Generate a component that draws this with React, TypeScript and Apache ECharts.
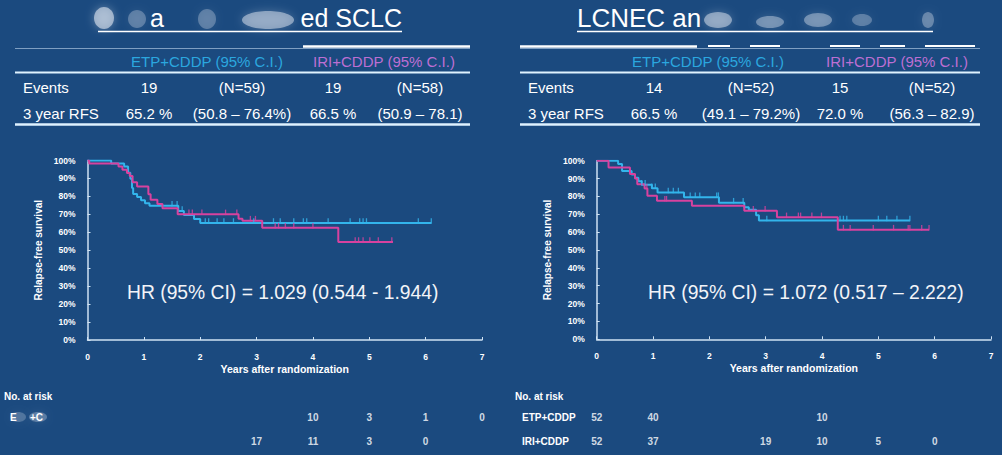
import React, { useEffect, useRef } from 'react';
import * as echarts from 'echarts';

const FONT = '"Liberation Sans", Arial, Helvetica, sans-serif';
const BG = '#1b4a7f';
const BLUE = '#33b5ec';
const MAGENTA = '#d8429f';
const HEAD_BLUE = '#2ba7df';
const HEAD_PURPLE = '#bd6fd3';
const AXIS = '#cfe2f3';

// ---------- Table data ----------
const tableHeaders = ['ETP+CDDP (95% C.I.)', 'IRI+CDDP (95% C.I.)'];
const rowLabels = ['Events', '3 year RFS'];
const sclcEvents = ['19', '(N=59)', '19', '(N=58)'];
const sclcRfs = ['65.2 %', '(50.8 – 76.4%)', '66.5 %', '(50.9 – 78.1)'];
const lcnecEvents = ['14', '(N=52)', '15', '(N=52)'];
const lcnecRfs = ['66.5 %', '(49.1 – 79.2%)', '72.0 %', '(56.3 – 82.9)'];
const sclcHR = 'HR (95% CI) = 1.029 (0.544 - 1.944)';
const lcnecHR = 'HR (95% CI) = 1.072 (0.517 – 2.222)';

// ---------- Kaplan-Meier data (time in years, survival %) ----------
const sclcEtpSteps: [number, number][] = [
  [0, 100], [0.42, 98.3], [0.65, 96.6], [0.72, 93.2], [0.76, 89.8], [0.79, 84.7], [0.81, 81.3],
  [0.88, 79.6], [0.95, 77.9], [1.02, 76.2], [1.1, 74.8], [1.61, 71.8], [1.71, 69.6], [1.89, 67.4], [2.0, 65.2],
];
const sclcEtpEnd = 6.1;
const sclcEtpCensor = [1.5, 1.59, 1.68, 2.09, 2.15, 2.3, 2.42, 2.59, 2.95, 3.3, 3.42, 3.66, 3.83, 3.89, 4.27, 4.66, 4.83, 4.89, 4.95, 5.87, 6.1];

const sclcIriSteps: [number, number][] = [
  [0, 100], [0.03, 98.3], [0.55, 96.6], [0.62, 94.8], [0.7, 93.1], [0.75, 91.4], [0.8, 87.9], [0.88, 85.5],
  [1.08, 81.2], [1.12, 78.2], [1.24, 75.7], [1.33, 73.4], [1.6, 70.0], [2.68, 67.6], [2.75, 66.5], [3.1, 62.6], [4.45, 54.6],
];
const sclcIriEnd = 5.42;
const sclcIriCensor = [1.8, 1.86, 2.03, 2.45, 2.65, 2.89, 2.98, 3.33, 3.39, 3.51, 3.66, 4.0, 4.75, 4.81, 4.89, 5.01, 5.16, 5.4];

const lcnecEtpSteps: [number, number][] = [
  [0, 100], [0.38, 98.1], [0.45, 94.2], [0.62, 92.3], [0.68, 90.4], [0.74, 88.5], [0.8, 86.5], [0.98, 84.6],
  [1.08, 82.2], [1.55, 79.6], [2.17, 76.5], [2.62, 74.0], [2.7, 72.5], [2.83, 69.5], [2.88, 66.5],
];
const lcnecEtpEnd = 5.56;
const lcnecEtpCensor = [0.8, 0.86, 0.98, 1.04, 1.27, 1.36, 1.45, 1.66, 1.75, 1.83, 2.13, 2.16, 2.43, 2.6, 3.02, 4.32, 4.38, 4.44, 5.0, 5.15, 5.33, 5.56];

const lcnecIriSteps: [number, number][] = [
  [0, 100], [0.21, 96.2], [0.59, 92.6], [0.68, 90.0], [0.72, 86.8], [0.85, 84.5], [0.9, 80.4], [1.07, 77.6],
  [1.69, 74.8], [2.62, 72.0], [3.2, 68.3], [4.28, 61.4],
];
const lcnecIriEnd = 5.9;
const lcnecIriCensor = [0.89, 1.21, 1.24, 2.78, 2.99, 3.37, 3.58, 3.62, 3.82, 3.99, 4.38, 4.5, 4.91, 5.27, 5.53, 5.56, 5.77, 5.9];

// ---------- Numbers at risk (null = unreadable in source) ----------
const riskYears = [0, 1, 2, 3, 4, 5, 6, 7];
const sclcEtpRisk = [null, null, null, null, 10, 3, 1, 0];
const sclcIriRisk = [null, null, null, 17, 11, 3, 0, null];
const lcnecEtpRisk = [52, 40, null, null, 10, null, null, null];
const lcnecIriRisk = [52, 37, null, 19, 10, 5, 0, null];
const armNames = ['ETP+CDDP', 'IRI+CDDP'];

function survAt(steps: [number, number][], t: number) {
  let v = steps[0][1];
  for (const [ti, si] of steps) if (ti <= t) v = si;
  return v;
}

function kmSeries(steps: [number, number][], end: number, censor: number[], color: string, idx: number) {
  const last = steps[steps.length - 1][1];
  return [
    {
      type: 'line', xAxisIndex: idx, yAxisIndex: idx, step: 'end', showSymbol: false, symbol: 'none',
      data: [...steps, [end, last]], lineStyle: { color, width: 2 }, itemStyle: { color }, z: 3,
    },
    {
      type: 'scatter', xAxisIndex: idx, yAxisIndex: idx, symbol: 'rect', symbolSize: [1.3, 5.5], symbolOffset: [0, -2],
      data: censor.map((t) => [t, survAt(steps, t)]), itemStyle: { color }, z: 4,
    },
  ];
}

function riskSeries(values: (number | null)[], arm: string, idx: number) {
  return {
    type: 'scatter', xAxisIndex: idx, yAxisIndex: idx, symbolSize: 0,
    data: values.map((v, i) => (v === null ? null : [riskYears[i], arm, v])).filter((d) => d !== null),
    label: {
      show: true, position: 'inside', formatter: (p: any) => String(p.value[2]),
      color: '#ffffff', fontWeight: 'bold', fontSize: 10, fontFamily: FONT,
    },
  };
}

function kmXAxis(gridIndex: number) {
  return {
    gridIndex, type: 'value', min: 0, max: 7, interval: 1,
    axisLine: { show: true, lineStyle: { color: AXIS, width: 1.5 } },
    axisTick: { show: true, inside: true, length: 3, lineStyle: { color: AXIS } },
    axisLabel: { color: '#ffffff', fontWeight: 'bold', fontSize: 8.5, fontFamily: FONT, margin: 12 },
    splitLine: { show: false },
    name: 'Years after randomization', nameLocation: 'middle', nameGap: 23,
    nameTextStyle: { color: '#ffffff', fontWeight: 'bold', fontSize: 10.5, fontFamily: FONT },
  };
}
function kmYAxis(gridIndex: number) {
  return {
    gridIndex, type: 'value', min: 0, max: 100, interval: 10,
    axisLine: { show: true, lineStyle: { color: AXIS, width: 1.5 } },
    axisTick: { show: true, inside: true, length: 3, lineStyle: { color: AXIS } },
    axisLabel: { color: '#ffffff', fontWeight: 'bold', fontSize: 8.5, fontFamily: FONT, margin: 12, formatter: '{value}%' },
    splitLine: { show: false },
    name: 'Relapse-free survival', nameLocation: 'middle', nameGap: 44, nameRotate: 90,
    nameTextStyle: { color: '#ffffff', fontWeight: 'bold', fontSize: 10, fontFamily: FONT },
  };
}

function txt(text: string, x: number, y: number, opts: any = {}) {
  return {
    type: 'text', x, y, silent: true,
    style: {
      text, fill: opts.fill || '#ffffff', fontSize: opts.size || 15, fontFamily: FONT,
      fontWeight: opts.bold ? 'bold' : 'normal', align: opts.align || 'left', verticalAlign: 'middle',
    },
  };
}
function hline(x1: number, x2: number, y: number, color: string, w: number) {
  return { type: 'line', silent: true, shape: { x1, y1: y, x2, y2: y }, style: { stroke: color, lineWidth: w } };
}
function blob(cx: number, cy: number, rx: number, ry: number, a: number) {
  return {
    type: 'ellipse', silent: true, shape: { cx, cy, rx, ry },
    style: { fill: `rgba(225,232,242,${a})`, shadowBlur: 10, shadowColor: `rgba(225,232,242,${a})` },
  };
}

function tableGraphics(x0: number, x1: number, headerX: number[], colX: number[], events: string[], rfs: string[], labelX: number) {
  const g: any[] = [];
  g.push(hline(x0, x1, 48.5, '#7f9fc2', 1));
  g.push(txt(tableHeaders[0], headerX[0], 61, { fill: HEAD_BLUE, align: 'center' }));
  g.push(txt(tableHeaders[1], headerX[1], 61, { fill: HEAD_PURPLE, align: 'center' }));
  g.push(hline(x0, x1, 72.5, '#dff2ff', 2));
  g.push(txt(rowLabels[0], labelX, 87, {}));
  g.push(txt(rowLabels[1], labelX, 113, {}));
  events.forEach((s, i) => g.push(txt(s, colX[i], 87, { align: 'center' })));
  rfs.forEach((s, i) => g.push(txt(s, colX[i], 113, { align: 'center' })));
  g.push(hline(x0, x1, 124.5, '#dff2ff', 2.5));
  return g;
}

export default function App() {
  const ref = useRef<HTMLDivElement>(null);
  useEffect(() => {
    if (!ref.current) return;
    const chart = echarts.init(ref.current, undefined, { renderer: 'svg' });

    const graphic: any[] = [
      // left title
      blob(104, 18, 10, 11, 0.6), blob(137, 19, 9, 9, 0.3), blob(207, 19, 9, 10, 0.3), blob(268, 20, 26, 9, 0.5),
      txt('a', 150, 18, { size: 25 }),
      txt('ed SCLC', 402, 18, { size: 25, align: 'right' }),
      hline(98, 402, 31.5, '#ffffff', 1.5),
      hline(303, 470, 46.5, '#ffffff', 2.5),
      // right title
      txt('LCNEC an', 577, 18, { size: 26 }),
      blob(718, 20, 14, 8, 0.5), blob(770, 22, 14, 6, 0.4), blob(818, 20, 14, 7, 0.4), blob(862, 20, 10, 6, 0.3), blob(928, 20, 6, 8, 0.35),
      hline(577, 933, 31.5, '#ffffff', 1.5),
      hline(520, 697, 46.5, '#ffffff', 2.5),
      hline(708, 730, 46, '#ffffff', 2), hline(750, 780, 46, '#ffffff', 2), hline(830, 860, 46, '#ffffff', 2), hline(880, 905, 46, '#ffffff', 2), hline(925, 975, 46, '#ffffff', 2),
      ...tableGraphics(15, 470, [207, 384], [149, 242, 333, 420], sclcEvents, sclcRfs, 23),
      ...tableGraphics(520, 980, [708, 897], [654, 751, 840, 932], lcnecEvents, lcnecRfs, 528),
      // HR texts
      txt(sclcHR, 127, 292, { size: 19.3, fill: '#f2f4f8' }),
      txt(lcnecHR, 648, 292, { size: 19.3, fill: '#f2f4f8' }),
      // at-risk labels
      txt('No. at risk', 4, 396, { size: 10, bold: true }),
      blob(18, 417, 8, 5, 0.25), blob(38, 417, 9, 5, 0.3),
      txt('E', 10, 417, { size: 10, bold: true }),
      txt('+C', 30, 417, { size: 10, bold: true }),
      txt('No. at risk', 515, 396, { size: 10, bold: true }),
      txt(armNames[0], 522, 417, { size: 10, bold: true }),
      txt(armNames[1], 522, 441, { size: 10, bold: true }),
    ];

    chart.setOption({
      animation: false,
      backgroundColor: BG,
      grid: [
        { left: 87.5, top: 160.5, width: 394.5, height: 179.5 },
        { left: 596.7, top: 160.7, width: 394.3, height: 178.6 },
        { left: 87.5, top: 405, width: 394.5, height: 48 },
        { left: 596.7, top: 405, width: 394.3, height: 48 },
      ],
      xAxis: [
        kmXAxis(0), kmXAxis(1),
        { gridIndex: 2, type: 'value', min: 0, max: 7, show: false },
        { gridIndex: 3, type: 'value', min: 0, max: 7, show: false },
      ],
      yAxis: [
        kmYAxis(0), kmYAxis(1),
        { gridIndex: 2, type: 'category', data: armNames, inverse: true, show: false },
        { gridIndex: 3, type: 'category', data: armNames, inverse: true, show: false },
      ],
      series: [
        ...kmSeries(sclcEtpSteps, sclcEtpEnd, sclcEtpCensor, BLUE, 0),
        ...kmSeries(sclcIriSteps, sclcIriEnd, sclcIriCensor, MAGENTA, 0),
        ...kmSeries(lcnecEtpSteps, lcnecEtpEnd, lcnecEtpCensor, BLUE, 1),
        ...kmSeries(lcnecIriSteps, lcnecIriEnd, lcnecIriCensor, MAGENTA, 1),
        riskSeries(sclcEtpRisk, armNames[0], 2),
        riskSeries(sclcIriRisk, armNames[1], 2),
        riskSeries(lcnecEtpRisk, armNames[0], 3),
        riskSeries(lcnecIriRisk, armNames[1], 3),
      ],
      graphic,
    });
    return () => chart.dispose();
  }, []);
  return <div ref={ref} style={{ position: 'fixed', left: 0, top: 0, width: 1002, height: 455 }} />;
}
